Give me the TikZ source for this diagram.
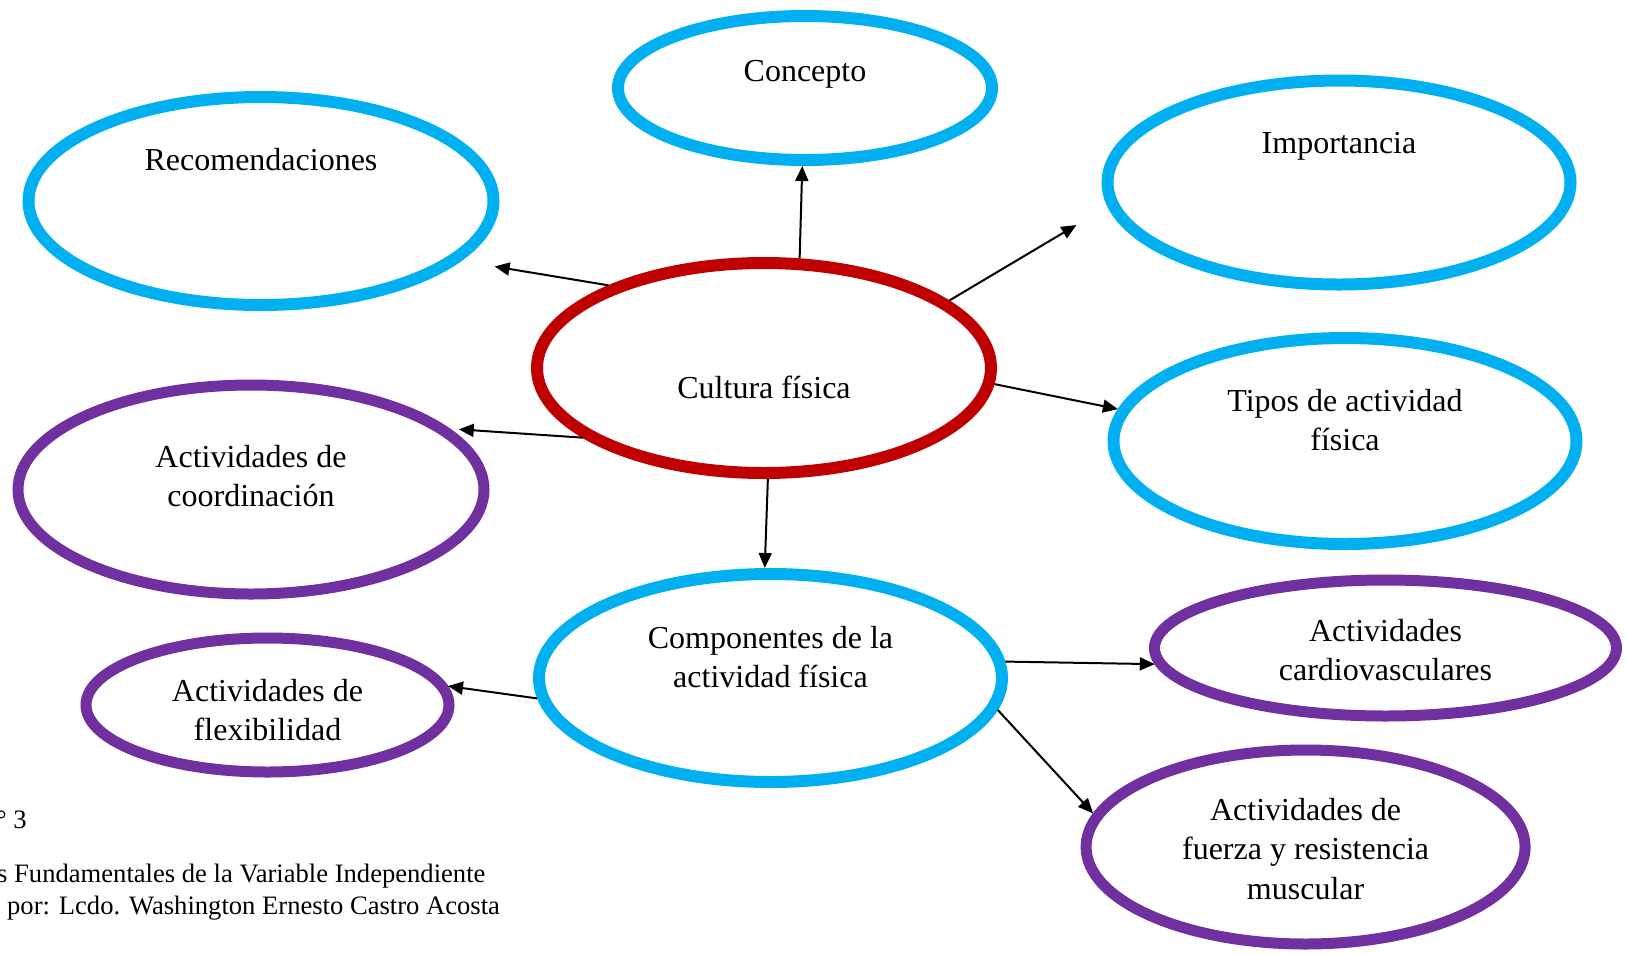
\documentclass[tikz,border=0pt]{standalone}
\usepackage{fontspec}
\setmainfont{Liberation Serif}
\usetikzlibrary{shapes.geometric,arrows.meta}
\definecolor{sky}{HTML}{00B0F0}
\definecolor{deepred}{HTML}{C00000}
\definecolor{topicpurple}{HTML}{7030A0}

\begin{document}
\begin{tikzpicture}[x=1pt,y=-1pt,
  bubble/.style={ellipse, draw, inner sep=0pt},
  skyb/.style={bubble, draw=sky, line width=12pt},
  redb/.style={bubble, draw=deepred, line width=12pt},
  purb/.style={bubble, draw=topicpurple, line width=11pt},
  lbl/.style={font=\fontsize{32}{39.4}\selectfont, align=center, anchor=base, inner sep=0pt},
  note/.style={font=\fontsize{26.6}{33}\selectfont, anchor=base west, inner sep=0pt},
  link/.style={line width=2pt, -{Triangle[length=15pt,width=13pt]}},
]
\useasboundingbox (0,0) rectangle (1626,954);

% bubbles
\node[skyb, minimum width=374pt, minimum height=144pt] (concepto) at (805,88) {};
\node[skyb, minimum width=465pt, minimum height=208pt] (recom) at (261,201) {};
\node[skyb, minimum width=463pt, minimum height=204pt] (import) at (1339,182.5) {};
\node[redb, minimum width=454pt, minimum height=210pt] (cultura) at (764,368) {};
\node[skyb, minimum width=463pt, minimum height=206pt] (tipos) at (1345,441) {};
\node[purb, minimum width=466pt, minimum height=209pt] (coord) at (251,489.5) {};
\node[skyb, minimum width=463pt, minimum height=208pt] (compon) at (770.5,678) {};
\node[purb, minimum width=462pt, minimum height=136pt] (cardio) at (1385.5,648) {};
\node[purb, minimum width=363pt, minimum height=134pt] (flex) at (267.5,705) {};
\node[purb, minimum width=439pt, minimum height=194pt] (fuerza) at (1305.6,847) {};

% bubble texts (base = baseline of the last line)
\node[lbl] (concepto-t) at (805,81) {Concepto};
\node[lbl] (recom-t) at (261,170.5) {Recomendaciones};
\node[lbl] (import-t) at (1339,153.5) {Importancia};
\node[lbl] (cultura-t) at (764,398.5) {Cultura física};
\node[lbl] (tipos-t) at (1345,450.9) {Tipos de actividad\\física};
\node[lbl] (coord-t) at (251,506.9) {Actividades de\\coordinación};
\node[lbl] (compon-t) at (770.5,687.9) {Componentes de la\\actividad física};
\node[lbl] (cardio-t) at (1385.5,680.4) {Actividades\\cardiovasculares};
\node[lbl] (flex-t) at (267.5,740.4) {Actividades de\\flexibilidad};
\node[lbl] (fuerza-t) at (1305.6,899.3) {Actividades de\\fuerza y resistencia\\muscular};

% free arrow ends
\coordinate (recom-tip) at (494.6,266.5);
\coordinate (import-tip) at (1076.4,225);

% connectors
\draw[link] (cultura.72) -- (concepto.268);
\draw[link] (cultura.152) -- (recom-tip);
\draw[link] (cultura.20) -- (import-tip);
\draw[link] (cultura.-4) -- (tipos.172);
\draw[link, shorten >=9pt] (cultura.201) -- (coord.17);
\draw[link] (cultura.272) -- (compon.93);
\draw[link] (compon.185) -- (flex.6);
\draw[link] (compon.4) -- (cardio.184);
\draw[link] (compon.-8) -- (fuerza.171);

% caption lines
\node[note] (cap1) at (-4,828) {° 3};
\node[note] (cap2) at (-3,882) {s Fundamentales de la Variable Independiente};
\node[note] (cap3) at (7,914) {por: Lcdo. Washington Ernesto Castro Acosta};
\end{tikzpicture}
\end{document}
